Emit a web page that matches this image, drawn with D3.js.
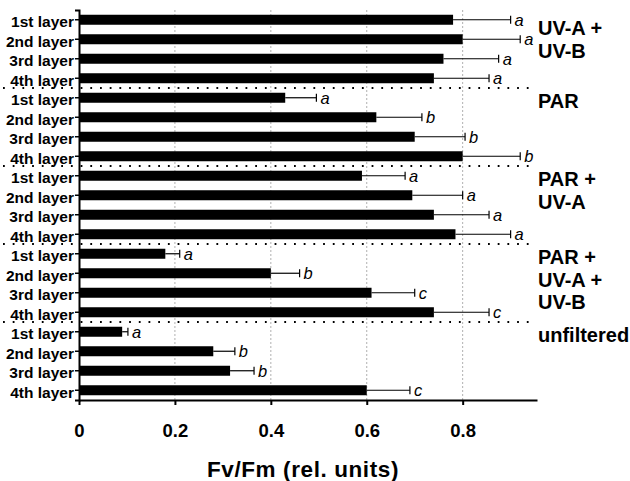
<!DOCTYPE html>
<html>
<head>
<meta charset="utf-8">
<script src="https://cdn.jsdelivr.net/npm/d3@7"></script>
<style>
  html, body { margin: 0; padding: 0; background: #fff; }
  svg { display: block; }
  text { font-family: "Liberation Sans", Arial, Helvetica, sans-serif; fill: #000; }
</style>
</head>
<body>
<svg id="chart" width="630" height="481"></svg>
<script>
// Treatments (filter conditions), top to bottom
const treatments = ["UV-A + UV-B", "PAR", "PAR + UV-A", "PAR + UV-A + UV-B", "unfiltered"];
const treatmentLines = [["UV-A +", "UV-B"], ["PAR"], ["PAR +", "UV-A"], ["PAR +", "UV-A +", "UV-B"], ["unfiltered"]];
const layers = ["1st layer", "2nd layer", "3rd layer", "4th layer"];

// Mean Fv/Fm per layer
const meanUVAB      = [0.78, 0.80, 0.76, 0.74];
const meanPAR       = [0.43, 0.62, 0.70, 0.80];
const meanPARUVA    = [0.59, 0.695, 0.74, 0.785];
const meanPARUVAUVB = [0.18, 0.40, 0.61, 0.74];
const meanUnfiltered = [0.09, 0.28, 0.315, 0.60];

// Standard deviations
const sdUVAB       = [0.12, 0.12, 0.115, 0.115];
const sdPAR        = [0.065, 0.095, 0.105, 0.12];
const sdPARUVA     = [0.09, 0.105, 0.115, 0.115];
const sdPARUVAUVB  = [0.03, 0.06, 0.09, 0.115];
const sdUnfiltered = [0.012, 0.045, 0.05, 0.09];

// Significance letters
const sigUVAB       = ["a", "a", "a", "a"];
const sigPAR        = ["a", "b", "b", "b"];
const sigPARUVA     = ["a", "a", "a", "a"];
const sigPARUVAUVB  = ["a", "b", "c", "c"];
const sigUnfiltered = ["a", "b", "b", "c"];

const xTicks = [0, 0.2, 0.4, 0.6, 0.8];
const xTickLabels = ["0", "0.2", "0.4", "0.6", "0.8"];
const xTitle = "Fv/Fm (rel. units)";

const means = [meanUVAB, meanPAR, meanPARUVA, meanPARUVAUVB, meanUnfiltered];
const sds = [sdUVAB, sdPAR, sdPARUVA, sdPARUVAUVB, sdUnfiltered];
const sigs = [sigUVAB, sigPAR, sigPARUVA, sigPARUVAUVB, sigUnfiltered];

const rows = treatments.flatMap((t, gi) => layers.map((l, li) => ({
  key: gi + "-" + li, group: gi, layer: l,
  mean: means[gi][li], sd: sds[gi][li], sig: sigs[gi][li]
})));

const svg = d3.select("#chart");
const plotLeft = 79, plotRight = 537, plotTop = 10, plotBottom = 400;

const x = d3.scaleLinear().domain([0, 0.955]).range([plotLeft, plotRight]);
const pi = 0.487;
const y = d3.scaleBand().domain(rows.map(d => d.key)).range([plotTop, plotBottom])
  .paddingInner(pi).paddingOuter(pi / 2);
const bw = y.bandwidth(), step = y.step();
const cy = k => y(k) + bw / 2;

// vertical dotted grid
svg.append("g").selectAll("line").data(xTicks.filter(v => v > 0)).join("line")
  .attr("x1", d => x(d)).attr("x2", d => x(d))
  .attr("y1", plotTop).attr("y2", plotBottom)
  .attr("stroke", "#b0b0b0").attr("stroke-width", 1)
  .attr("stroke-dasharray", "2,2");

// dotted separators between treatments
const sepKeys = treatments.slice(1).map((t, i) => (i + 1) + "-0");
svg.append("g").selectAll("line").data(sepKeys).join("line")
  .attr("x1", 3).attr("x2", 536)
  .attr("y1", d => cy(d) - step / 2).attr("y2", d => cy(d) - step / 2)
  .attr("stroke", "#000").attr("stroke-width", 2)
  .attr("stroke-dasharray", "1.8,7.9");

// bars
svg.append("g").selectAll("rect").data(rows).join("rect")
  .attr("x", x(0)).attr("y", d => y(d.key))
  .attr("width", d => x(d.mean) - x(0)).attr("height", bw)
  .attr("fill", "#000");

// error bars (upper half only)
const eb = svg.append("g").attr("stroke", "#000").attr("stroke-width", 1.2);
eb.selectAll("line.h").data(rows).join("line").attr("class", "h")
  .attr("x1", d => x(d.mean)).attr("x2", d => x(d.mean + d.sd))
  .attr("y1", d => cy(d.key)).attr("y2", d => cy(d.key));
eb.selectAll("line.c").data(rows).join("line").attr("class", "c")
  .attr("x1", d => x(d.mean + d.sd)).attr("x2", d => x(d.mean + d.sd))
  .attr("y1", d => cy(d.key) - 4).attr("y2", d => cy(d.key) + 4);

// significance letters
svg.append("g").selectAll("text").data(rows).join("text")
  .attr("x", d => x(d.mean + d.sd) + 4).attr("y", d => cy(d.key) + 6)
  .attr("font-size", 16.5).attr("font-style", "italic")
  .text(d => d.sig);

// y axis
const yAxis = d3.axisLeft(y).tickSize(4).tickSizeOuter(4)
  .tickFormat(k => rows.find(r => r.key === k).layer);
const ya = svg.append("g").attr("transform", `translate(${plotLeft},0)`).call(yAxis);
ya.select(".domain").attr("stroke-width", 2);
ya.selectAll(".tick line").attr("stroke-width", 1.5);
ya.selectAll(".tick text").attr("x", -5).attr("dy", "0.48em")
  .attr("font-size", 15.5).attr("font-weight", "bold")
  .attr("font-family", '"Liberation Sans", Arial, sans-serif');

// x axis
const xAxis = d3.axisBottom(x).tickValues(xTicks).tickSize(5).tickSizeOuter(0)
  .tickFormat((d, i) => xTickLabels[i]);
const xa = svg.append("g").attr("transform", `translate(0,${plotBottom})`).call(xAxis);
xa.select(".domain").attr("stroke-width", 2);
xa.selectAll(".tick line").attr("stroke-width", 2);
xa.selectAll(".tick text").attr("y", 0).attr("dy", 37)
  .attr("font-size", 18.5).attr("font-weight", "bold")
  .attr("font-family", '"Liberation Sans", Arial, sans-serif');

// axis title
svg.append("text").attr("x", 303).attr("y", 477).attr("text-anchor", "middle")
  .attr("font-size", 22.5).attr("font-weight", "bold").attr("letter-spacing", 0.6)
  .text(xTitle);

// treatment labels, kept clear of the top edge of the plot
treatmentLines.forEach((lines, gi) => {
  const firstKey = gi + "-0";
  const y0 = Math.max(cy(firstKey) - step / 2 + 20, plotTop + 25);
  const t = svg.append("text").attr("x", 538).attr("y", y0)
    .attr("font-size", 20).attr("font-weight", "bold");
  lines.forEach((ln, li) => {
    t.append("tspan").attr("x", 538).attr("dy", li === 0 ? 0 : 22.5).text(ln);
  });
});
</script>
</body>
</html>
